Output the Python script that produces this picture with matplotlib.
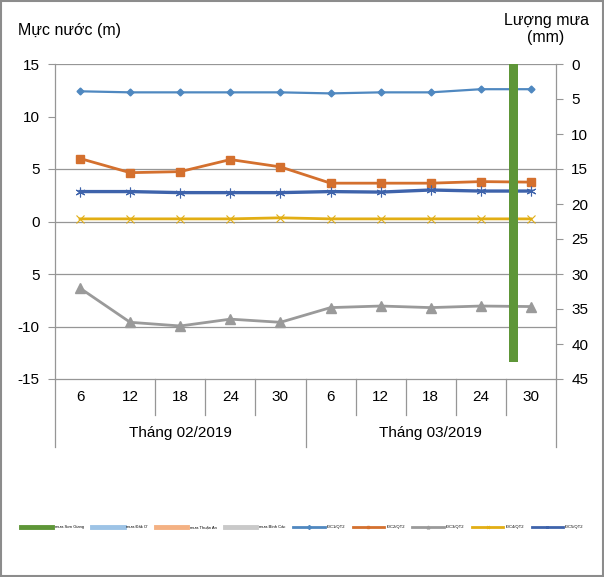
import matplotlib
matplotlib.use('Agg')
import matplotlib.pyplot as plt
from matplotlib.lines import Line2D
from matplotlib.patches import Rectangle
import numpy as np

plt.rcParams['font.family'] = ['Liberation Sans', 'DejaVu Sans']

# category labels
days = ['6', '12', '18', '24', '30', '6', '12', '18', '24', '30']
months = ['Tháng 02/2019', 'Tháng 03/2019']

# water level series (m)
level_names = ['ĐC1/QT2', 'ĐC2/QT2', 'ĐC3/QT2', 'ĐC4/QT2', 'ĐC5/QT2']
level_1 = [12.4, 12.3, 12.3, 12.3, 12.3, 12.2, 12.3, 12.3, 12.6, 12.6]
level_2 = [6.0, 4.65, 4.75, 5.9, 5.2, 3.65, 3.65, 3.65, 3.8, 3.75]
level_3 = [-6.35, -9.6, -9.95, -9.3, -9.6, -8.2, -8.05, -8.2, -8.05, -8.1]
level_4 = [0.25, 0.25, 0.25, 0.25, 0.35, 0.25, 0.25, 0.25, 0.25, 0.25]
level_5 = [2.85, 2.85, 2.75, 2.75, 2.75, 2.85, 2.8, 3.0, 2.9, 2.9]

# rainfall series (mm)
rain_names = ['mưa Sơn Giang', 'mưa Đăk Ơ', 'mưa Thuận An', 'mưa Bình Các']
rain_1 = [0, 0, 0, 0, 0, 0, 0, 0, 0, 42.6]
rain_2 = [0] * 10
rain_3 = [0] * 10
rain_4 = [0] * 10

left_ticks = [-15, -10, -5, 0, 5, 10, 15]
left_labels = ['-15', '-10', '5', '0', '5', '10', '15']

W, H = 604, 577
fig = plt.figure(figsize=(W / 100, H / 100), dpi=100)
ax = fig.add_axes([55 / W, 198 / H, 501 / W, 315 / H])
x = np.arange(len(days))

gridc = '#969696'
for g in [15, 5, 0, -5, -10]:
    ax.axhline(g, color=gridc, lw=0.9, zorder=0)

line_styles = [
    (level_1, '#4F88C0', 'D', 3.5, 1.6, 1),
    (level_2, '#D4702E', 's', 6, 2.0, 1),
    (level_3, '#9A9A9A', '^', 6.5, 2.0, 1),
    (level_4, '#E2AE14', 'x', 6, 2.0, 0.8),
    (level_5, '#3E63AB', (6, 2, 0), 7, 2.4, 0.8),
]
for vals, c, m, ms, lw, mew in line_styles:
    ax.plot(x, vals, color=c, marker=m, markersize=ms, lw=lw, markeredgewidth=mew,
            markeredgecolor=c, markerfacecolor=c, zorder=3)

ax.set_xlim(-0.5, 9.5)
ax.set_ylim(-15, 15)
ax.set_yticks(left_ticks)
ax.set_yticklabels(left_labels)
ax.set_xticks([])
ax.tick_params(axis='y', length=5, color=gridc, labelsize=11, pad=6)
for s in ['top', 'right']:
    ax.spines[s].set_visible(False)
for s in ['left', 'bottom']:
    ax.spines[s].set_color(gridc)
    ax.spines[s].set_linewidth(0.9)

ax2 = ax.twinx()
rain_colors = ['#5E9638', '#9DC3E6', '#F4B183', '#C9C9C9']
offsets = [-0.35, -0.15, 0.05, 0.25]
for vals, c, off in zip([rain_1, rain_2, rain_3, rain_4], rain_colors, offsets):
    ax2.bar(x + off, vals, width=0.18, color=c, zorder=4)
ax2.set_ylim(45, 0)
ax2.set_yticks(range(0, 50, 5))
ax2.tick_params(axis='y', length=5, color=gridc, labelsize=11, pad=6)
for s in ['top', 'left', 'bottom']:
    ax2.spines[s].set_visible(False)
ax2.spines['right'].set_color(gridc)
ax2.spines['right'].set_linewidth(0.9)

# category axis: day labels, month labels and divider lines
tr = ax.get_xaxis_transform()
short = -36 / 315
long_ = -68 / 315
for i, d in enumerate(days):
    ax.text(i, -18 / 315, d, transform=tr, ha='center', va='center', fontsize=11)
for b in [1.5, 2.5, 3.5, 5.5, 6.5, 7.5, 8.5]:
    ax.plot([b, b], [0, short], transform=tr, color=gridc, lw=0.9, clip_on=False)
for b in [-0.5, 4.5, 9.5]:
    ax.plot([b, b], [0, long_], transform=tr, color=gridc, lw=0.9, clip_on=False)
ax.text(2, -54 / 315, months[0], transform=tr, ha='center', va='center', fontsize=11)
ax.text(7, -54 / 315, months[1], transform=tr, ha='center', va='center', fontsize=11)

fig.text(18 / W, 1 - 30 / H, 'Mực nước (m)', fontsize=11.5, va='center', ha='left')
fig.text(546 / W, 1 - 29 / H, 'Lượng mưa\n(mm)', fontsize=11.5, va='center',
         ha='center', linespacing=1.1)

# legend
handles = [Line2D([0], [0], color=c, lw=3.5) for c in rain_colors]
for vals, c, m, ms, lw, mew in line_styles:
    handles.append(Line2D([0], [0], color=c, lw=2, marker=m, markersize=2))
labels = rain_names + level_names
fig.legend(handles, labels, loc='center', bbox_to_anchor=(0.5, 1 - 527 / H),
           ncol=9, fontsize=3.0, frameon=False, handlelength=7.5,
           columnspacing=2.0, handletextpad=0.6)

fig.patches.append(Rectangle((0.002, 0.002), 0.996, 0.996, transform=fig.transFigure,
                             fill=False, edgecolor='#8c8c8c', lw=1.5))

fig.savefig('out.png', dpi=100)
